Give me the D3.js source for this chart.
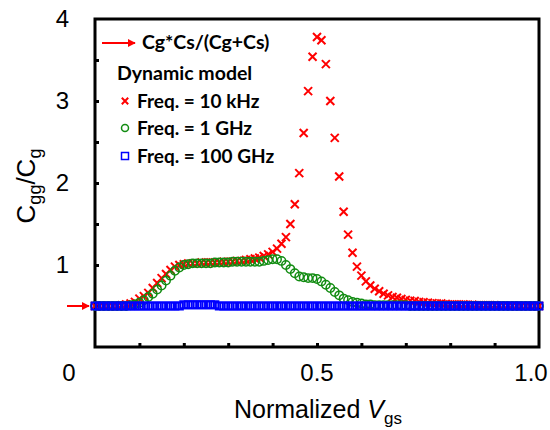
<!DOCTYPE html>
<html>
<head>
<meta charset="utf-8">
<script src="https://cdn.jsdelivr.net/npm/d3@7"></script>
<style>
  body { margin: 0; background: #fff; }
  svg { display: block; }
</style>
</head>
<body>
<script>
const w = 550;
const h = 430;
const margin = { top: 19, right: 11, bottom: 83, left: 95 };

// normalized Vgs sample points
const vgs = [
  0.00, 0.01, 0.02, 0.03, 0.04, 0.05, 0.06, 0.07, 0.08, 0.09,
  0.10, 0.11, 0.12, 0.13, 0.14, 0.15, 0.16, 0.17, 0.18, 0.19,
  0.20, 0.21, 0.22, 0.23, 0.24, 0.25, 0.26, 0.27, 0.28, 0.29,
  0.30, 0.31, 0.32, 0.33, 0.34, 0.35, 0.36, 0.37, 0.38, 0.39,
  0.40, 0.41, 0.42, 0.43, 0.44, 0.45, 0.46, 0.47, 0.48, 0.49,
  0.50, 0.51, 0.52, 0.53, 0.54, 0.55, 0.56, 0.57, 0.58, 0.59,
  0.60, 0.61, 0.62, 0.63, 0.64, 0.65, 0.66, 0.67, 0.68, 0.69,
  0.70, 0.71, 0.72, 0.73, 0.74, 0.75, 0.76, 0.77, 0.78, 0.79,
  0.80, 0.81, 0.82, 0.83, 0.84, 0.85, 0.86, 0.87, 0.88, 0.89,
  0.90, 0.91, 0.92, 0.93, 0.94, 0.95, 0.96, 0.97, 0.98, 0.99,
  1.00
];

// Cgg/Cg at 10 kHz
const freq10k = [
  0.50, 0.50, 0.50, 0.50, 0.50, 0.50, 0.51, 0.52, 0.53, 0.55,
  0.59, 0.62, 0.66, 0.72, 0.78, 0.84, 0.89, 0.94, 0.98, 1.00,
  1.01, 1.02, 1.02, 1.02, 1.03, 1.03, 1.03, 1.03, 1.03, 1.04,
  1.04, 1.04, 1.05, 1.05, 1.06, 1.07, 1.08, 1.09, 1.11, 1.13,
  1.16, 1.20, 1.26, 1.34, 1.50, 1.74, 2.12, 2.61, 3.12, 3.54,
  3.78, 3.74, 3.45, 3.00, 2.55, 2.08, 1.65, 1.37, 1.15, 0.98,
  0.87, 0.80, 0.75, 0.71, 0.68, 0.65, 0.63, 0.61, 0.60, 0.585,
  0.575, 0.565, 0.56, 0.55, 0.545, 0.54, 0.535, 0.53, 0.53, 0.525,
  0.52, 0.52, 0.52, 0.52, 0.515, 0.515, 0.51, 0.51, 0.51, 0.51,
  0.51, 0.505, 0.505, 0.505, 0.505, 0.50, 0.50, 0.50, 0.50, 0.50,
  0.50
];

// Cgg/Cg at 1 GHz
const freq1g = [
  0.50, 0.50, 0.50, 0.50, 0.50, 0.50, 0.50, 0.50, 0.51, 0.52,
  0.54, 0.57, 0.61, 0.65, 0.70, 0.75, 0.81, 0.87, 0.93, 0.97,
  1.00, 1.01, 1.02, 1.02, 1.02, 1.02, 1.02, 1.03, 1.03, 1.03,
  1.03, 1.04, 1.04, 1.04, 1.04, 1.04, 1.04, 1.04, 1.05, 1.06,
  1.07, 1.07, 1.05, 1.00, 0.95, 0.90, 0.86, 0.85, 0.84, 0.84,
  0.83, 0.80, 0.76, 0.72, 0.67, 0.63, 0.59, 0.57, 0.55, 0.54,
  0.53, 0.52, 0.52, 0.51, 0.51, 0.51, 0.51, 0.51, 0.51, 0.51,
  0.51, 0.50, 0.50, 0.50, 0.50, 0.50, 0.50, 0.50, 0.50, 0.50,
  0.50, 0.50, 0.50, 0.50, 0.50, 0.50, 0.50, 0.50, 0.50, 0.50,
  0.50, 0.50, 0.50, 0.50, 0.50, 0.50, 0.50, 0.50, 0.50, 0.50,
  0.50
];

// Cgg/Cg at 100 GHz
const freq100g = [
  0.50, 0.50, 0.50, 0.50, 0.50, 0.50, 0.50, 0.50, 0.50, 0.50,
  0.50, 0.50, 0.50, 0.50, 0.50, 0.50, 0.50, 0.50, 0.50, 0.50,
  0.515, 0.515, 0.515, 0.515, 0.515, 0.515, 0.515, 0.515, 0.50, 0.50,
  0.50, 0.50, 0.50, 0.50, 0.50, 0.50, 0.50, 0.50, 0.50, 0.50,
  0.50, 0.50, 0.50, 0.50, 0.50, 0.50, 0.50, 0.50, 0.50, 0.50,
  0.50, 0.50, 0.50, 0.50, 0.50, 0.50, 0.50, 0.50, 0.50, 0.50,
  0.50, 0.50, 0.50, 0.50, 0.50, 0.50, 0.50, 0.50, 0.50, 0.50,
  0.50, 0.50, 0.50, 0.50, 0.50, 0.50, 0.50, 0.50, 0.50, 0.50,
  0.50, 0.50, 0.50, 0.50, 0.50, 0.50, 0.50, 0.50, 0.50, 0.50,
  0.50, 0.50, 0.50, 0.50, 0.50, 0.50, 0.50, 0.50, 0.50, 0.50,
  0.50
];

// Cg*Cs/(Cg+Cs) reference level
const seriesLimit = 0.5;

const xTickLabels = ["0", "0.5", "1.0"];
const xTickValues = [0, 0.5, 1.0];
const xMinorTicks = [0.1, 0.2, 0.3, 0.4, 0.5, 0.6, 0.7, 0.8, 0.9];
const yTickLabels = ["1", "2", "3", "4"];
const yTickValues = [1, 2, 3, 4];
const yMinorTicks = [0.5, 1, 1.5, 2, 2.5, 3, 3.5];

const legendLabels = ["Freq. = 10 kHz", "Freq. = 1 GHz", "Freq. = 100 GHz"];

const red = "#ff0000";
const green = "#128c12";
const blue = "#0000ff";

const svg = d3
  .select("body")
  .append("svg")
  .attr("width", w)
  .attr("height", h);

const xScale = d3
  .scaleLinear()
  .domain([0, 1])
  .range([margin.left, w - margin.right]);
const yScale = d3
  .scaleLinear()
  .domain([0, 4])
  .range([h - margin.bottom, margin.top]);

const tickFont = "'Liberation Sans', Arial, sans-serif";

// inward minor ticks on x
svg
  .append("g")
  .attr("transform", "translate(0," + (h - margin.bottom) + ")")
  .call(d3.axisBottom(xScale).tickValues(xMinorTicks).tickSize(-4).tickFormat(""))
  .call(g => g.select(".domain").remove())
  .selectAll("line")
  .attr("stroke", "#000")
  .attr("stroke-width", 3);

// inward ticks on y
svg
  .append("g")
  .attr("transform", "translate(" + margin.left + ",0)")
  .call(d3.axisLeft(yScale).tickValues(yMinorTicks).tickSize(-4).tickFormat(""))
  .call(g => g.select(".domain").remove())
  .selectAll("line")
  .attr("stroke", "#000")
  .attr("stroke-width", 3);

// frame
svg
  .append("rect")
  .attr("x", xScale(0))
  .attr("y", yScale(4))
  .attr("width", xScale(1) - xScale(0))
  .attr("height", yScale(0) - yScale(4))
  .attr("fill", "none")
  .attr("stroke", "#000")
  .attr("stroke-width", 3);

// y tick labels
const yAxis = d3
  .axisLeft(yScale)
  .tickValues(yTickValues)
  .tickFormat((d, i) => yTickLabels[i])
  .tickSize(0)
  .tickPadding(26);
svg
  .append("g")
  .attr("transform", "translate(" + margin.left + ",0)")
  .call(yAxis)
  .call(g => g.select(".domain").remove())
  .selectAll("text")
  .style("font-family", tickFont)
  .style("font-size", "24px")
  .attr("fill", "#000");

// x tick labels ("0" sits at the corner, left of the axis)
svg
  .append("g")
  .selectAll("text")
  .data(xTickValues)
  .enter()
  .append("text")
  .attr("x", (d, i) => xScale(d) + [-26, 0, -8][i])
  .attr("y", 381)
  .attr("text-anchor", "middle")
  .style("font-family", tickFont)
  .style("font-size", "24px")
  .text((d, i) => xTickLabels[i]);

// axis titles
const yTitle = svg
  .append("text")
  .attr("transform", "translate(35," + 186 + ") rotate(-90)")
  .attr("text-anchor", "middle")
  .style("font-family", tickFont)
  .style("font-size", "26px");
yTitle.append("tspan").text("C");
yTitle.append("tspan").attr("dy", 6).style("font-size", "18px").text("gg");
yTitle.append("tspan").attr("dy", -6).text("/C");
yTitle.append("tspan").attr("dy", 6).style("font-size", "18px").text("g");

const xTitle = svg
  .append("text")
  .attr("x", 318)
  .attr("y", 418)
  .attr("text-anchor", "middle")
  .style("font-family", tickFont)
  .style("font-size", "25px");
xTitle.append("tspan").text("Normalized ");
xTitle.append("tspan").style("font-style", "italic").text("V");
xTitle.append("tspan").attr("dy", 6).style("font-size", "17px").text("gs");

// marker shapes
function drawCross(sel, s) {
  sel
    .append("path")
    .attr("d", "M" + -s + "," + -s + "L" + s + "," + s + "M" + -s + "," + s + "L" + s + "," + -s)
    .attr("stroke", red)
    .attr("stroke-width", 2)
    .attr("fill", "none");
}

// data: 10 kHz
svg
  .append("g")
  .selectAll("g")
  .data(freq10k)
  .enter()
  .append("g")
  .attr("transform", (d, i) => "translate(" + xScale(vgs[i]) + "," + yScale(d) + ")")
  .call(drawCross, 4);

// data: 1 GHz
svg
  .append("g")
  .selectAll("circle")
  .data(freq1g)
  .enter()
  .append("circle")
  .attr("cx", (d, i) => xScale(vgs[i]))
  .attr("cy", d => yScale(d))
  .attr("r", 4.2)
  .attr("fill", "none")
  .attr("stroke", green)
  .attr("stroke-width", 1.5);

// data: 100 GHz
svg
  .append("g")
  .selectAll("rect")
  .data(freq100g)
  .enter()
  .append("rect")
  .attr("x", (d, i) => xScale(vgs[i]) - 3.5)
  .attr("y", d => yScale(d) - 3.5)
  .attr("width", 7)
  .attr("height", 7)
  .attr("fill", "none")
  .attr("stroke", blue)
  .attr("stroke-width", 2);

// arrow marking Cg*Cs/(Cg+Cs) on the y axis
svg
  .append("defs")
  .append("marker")
  .attr("id", "arrow")
  .attr("viewBox", "0 0 10 10")
  .attr("refX", 9)
  .attr("refY", 5)
  .attr("markerWidth", 4)
  .attr("markerHeight", 4)
  .attr("orient", "auto")
  .append("path")
  .attr("d", "M0,0L10,5L0,10Z")
  .attr("fill", red);

svg
  .append("line")
  .attr("x1", 67)
  .attr("x2", 89)
  .attr("y1", yScale(seriesLimit))
  .attr("y2", yScale(seriesLimit))
  .attr("stroke", red)
  .attr("stroke-width", 2)
  .attr("marker-end", "url(#arrow)");

// legend
const legendFont = "Lato, 'Open Sans', sans-serif";
const legend = svg.append("g").style("font-family", legendFont).style("font-weight", 700);

legend
  .append("line")
  .attr("x1", 102)
  .attr("x2", 135)
  .attr("y1", 43)
  .attr("y2", 43)
  .attr("stroke", red)
  .attr("stroke-width", 2)
  .attr("marker-end", "url(#arrow)");
legend
  .append("text")
  .attr("x", 142)
  .attr("y", 49)
  .style("font-size", "19.5px")
  .text("Cg*Cs/(Cg+Cs)");
legend
  .append("text")
  .attr("x", 117)
  .attr("y", 80)
  .style("font-size", "19.5px")
  .text("Dynamic model");

const rowY = [101, 128, 156];
legend
  .append("g")
  .attr("transform", "translate(125," + rowY[0] + ")")
  .call(drawCross, 3.2);
legend
  .append("circle")
  .attr("cx", 125)
  .attr("cy", rowY[1])
  .attr("r", 3.5)
  .attr("fill", "none")
  .attr("stroke", green)
  .attr("stroke-width", 1.5);
legend
  .append("rect")
  .attr("x", 121.5)
  .attr("y", rowY[2] - 3.5)
  .attr("width", 7)
  .attr("height", 7)
  .attr("fill", "none")
  .attr("stroke", blue)
  .attr("stroke-width", 1.5);

legend
  .selectAll(".lbl")
  .data(legendLabels)
  .enter()
  .append("text")
  .attr("class", "lbl")
  .attr("x", 137)
  .attr("y", (d, i) => rowY[i] + 7)
  .style("font-size", "19px")
  .text(d => d);
</script>
</body>
</html>
